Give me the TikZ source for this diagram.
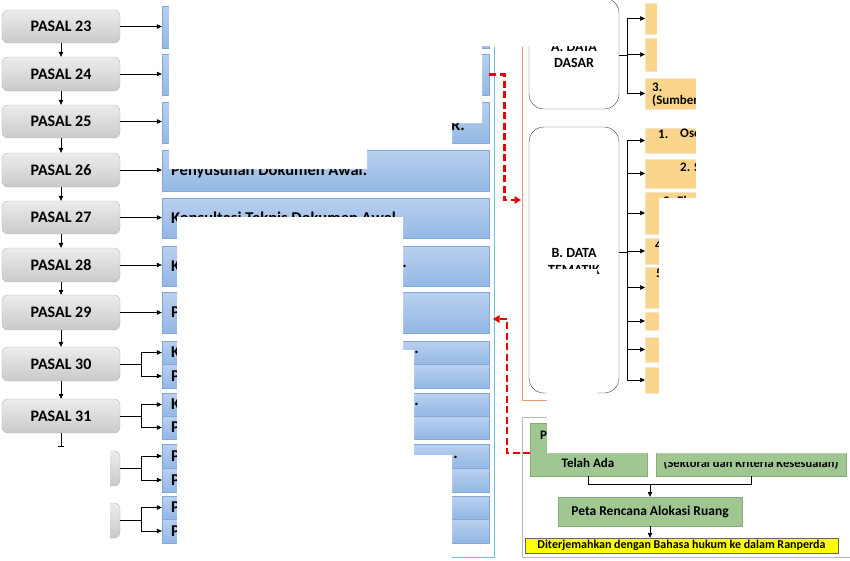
\documentclass[tikz,border=0pt]{standalone}
\usepackage{fontspec}
\setmainfont{Carlito}
\usetikzlibrary{arrows.meta}
\definecolor{bluetop}{RGB}{186,208,239}
\definecolor{bluebot}{RGB}{146,184,228}
\definecolor{blueline}{RGB}{130,168,214}
\definecolor{framebl}{RGB}{110,192,220}
\definecolor{orangef}{RGB}{251,213,140}
\definecolor{orangeline}{RGB}{236,150,120}
\definecolor{greenf}{RGB}{160,198,146}
\definecolor{greenline}{RGB}{135,172,122}
\definecolor{yellowf}{RGB}{255,255,0}
\definecolor{redd}{RGB}{235,0,0}
\begin{document}
\begin{tikzpicture}[x=1pt,y=-1pt,
  pasal/.style={rounded corners=6pt, top color=gray!15, bottom color=gray!42, draw=gray!55,
     minimum width=118pt, inner sep=0pt, font=\fontsize{16}{18}\selectfont\bfseries},
  bluebox/.style={top color=bluetop, bottom color=bluebot, draw=blueline, minimum width=327pt, inner sep=0pt},
  bt/.style={inner sep=0pt, font=\fontsize{16.5}{18}\selectfont\bfseries},
  dbox/.style={draw=black!75, rounded corners=15pt, minimum width=90pt, inner sep=0pt},
  dt/.style={inner sep=0pt, font=\fontsize{14}{16}\selectfont\bfseries},
  obox/.style={fill=orangef, draw=orangef!90!black!40, minimum width=200pt, inner sep=0pt, anchor=west},
  ot/.style={inner sep=0pt, anchor=west, font=\fontsize{13}{15}\selectfont\bfseries},
  gbox/.style={fill=greenf, draw=greenline, inner sep=0pt},
  gt/.style={inner sep=0pt, font=\fontsize{13}{15}\selectfont\bfseries},
  arr/.style={-{Triangle[length=5pt,width=4.5pt]}, line width=0.6pt},
  conn/.style={line width=0.6pt},
  redarr/.style={-{Triangle[length=6.5pt,width=7.5pt]}, draw=redd, line width=2.8pt, dash pattern=on 7pt off 3.5pt}
]
\useasboundingbox (0,0) rectangle (850,560);
\fill[white] (0,0) rectangle (850,560);

% ---- left gray PASAL boxes
\node[pasal, minimum height=33pt] (p23) at (61,26.5) {PASAL 23};
\node[pasal, minimum height=34pt] (p24) at (61,74) {PASAL 24};
\node[pasal, minimum height=33pt] (p25) at (61,121.5) {PASAL 25};
\node[pasal, minimum height=34pt] (p26) at (61,170) {PASAL 26};
\node[pasal, minimum height=33pt] (p27) at (61,217.5) {PASAL 27};
\node[pasal, minimum height=34pt] (p28) at (61,265) {PASAL 28};
\node[pasal, minimum height=35pt] (p29) at (61,312.5) {PASAL 29};
\node[pasal, minimum height=34pt] (p30) at (61,364) {PASAL 30};
\node[pasal, minimum height=34pt] (p31) at (61,416) {PASAL 31};
\node[pasal, minimum height=35pt] (g1) at (61,468.5) {};
\node[pasal, minimum height=35pt] (g2) at (61,520.5) {};

\foreach \a/\b in {p23/p24,p24/p25,p25/p26,p26/p27,p27/p28,p28/p29,p29/p30,p30/p31}
  \draw[arr] (\a.south) -- (\b.north);

% ---- blue boxes
\node[bluebox, minimum height=42pt] (r1) at (325.5,27) {};
\node[bluebox, minimum height=41pt] (r2) at (325.5,74.5) {};
\node[bluebox, minimum height=41pt] (r3) at (325.5,122.5) {};
\node[bluebox, minimum height=41pt] (r4) at (325.5,170.5) {};
\node[bluebox, minimum height=40pt] (r5) at (325.5,218) {};
\node[bluebox, minimum height=40pt] (r6) at (325.5,266) {};
\node[bluebox, minimum height=41pt] (r7) at (325.5,312.5) {};
\node[bluebox, minimum height=23pt] (r8a) at (325.5,352.5) {};
\node[bluebox, minimum height=24pt] (r8b) at (325.5,376) {};
\node[bluebox, minimum height=23pt] (r9a) at (325.5,404.5) {};
\node[bluebox, minimum height=23pt] (r9b) at (325.5,427.5) {};
\node[bluebox, minimum height=24pt] (r10a) at (325.5,456) {};
\node[bluebox, minimum height=24pt] (r10b) at (325.5,480) {};
\node[bluebox, minimum height=23pt] (r11a) at (325.5,507.5) {};
\node[bluebox, minimum height=24pt] (r11b) at (325.5,531) {};

% texts in blue boxes
\node[bt, anchor=east] (t3) at (465,125) {R.};
\node[bt, anchor=west] (t4) at (171,171) {Penyusunan Dokumen Awal.};
\node[bt, anchor=west] (t5) at (171,218) {Konsultasi Teknis Dokumen Awal.};
\node[bt, anchor=west] (t6) at (171,266) {K};
\node[bt, anchor=east] (t6e) at (407,266) {.};
\node[bt, anchor=west] (t7) at (171,312.5) {P};
\node[bt, anchor=west] (t8a) at (171,352.5) {K};
\node[bt, anchor=east] (t8e) at (419,352.5) {.};
\node[bt, anchor=west] (t8b) at (171,376) {P};
\node[bt, anchor=west] (t9a) at (171,404.5) {K};
\node[bt, anchor=east] (t9e) at (419,404.5) {.};
\node[bt, anchor=west] (t9b) at (171,427.5) {P};
\node[bt, anchor=west] (t10a) at (171,456) {P};
\node[bt, anchor=east] (t10e) at (458,457) {.};
\node[bt, anchor=west] (t10b) at (171,480) {P};
\node[bt, anchor=west] (t11a) at (171,507.5) {P};
\node[bt, anchor=west] (t11b) at (171,531) {P};

% horizontal arrows
\foreach \p/\r in {p23/r1,p24/r2,p25/r3,p26/r4,p27/r5,p28/r6,p29/r7}
  \draw[arr] (\p.east) -- (\p.east -| \r.west);
\foreach \p/\ra/\rb in {p30/r8a/r8b,p31/r9a/r9b,g1/r10a/r10b,g2/r11a/r11b}{
  \coordinate (j\p) at ([xshift=21pt]\p.east);
  \draw[conn] (\p.east) -- (j\p);
  \draw[arr] (j\p) |- (\ra.west);
  \draw[arr] (j\p) |- (\rb.west);
}

% ---- data section
\draw[orangeline, line width=0.7pt] (522,47) -- (522,400) -- (851,400);
\node[dbox, minimum height=111pt] (da) at (574,53.5) {};
\node[dt] (dat1) at (574,47.5) {A. DATA};
\node[dt] (dat2) at (574,63) {DASAR};
\node[dbox, minimum height=266pt] (db) at (574,260) {};
\node[dt] (dbt1) at (574,253) {B. DATA};
\node[dt] (dbt2) at (574,270) {TEMATIK};

\node[obox, minimum height=31pt] (a1) at (645,18.5) {};
\node[obox, minimum height=33pt] (a2) at (645,54.5) {};
\node[obox, minimum height=31pt] (a3) at (645,93.5) {};
\node[obox, minimum height=25pt] (b1) at (645,140.5) {};
\node[obox, minimum height=29pt] (b2) at (645,173.5) {};
\node[obox, minimum height=42pt] (b3) at (645,213) {};
\node[obox, minimum height=26pt] (b4) at (645,251) {};
\node[obox, minimum height=41pt] (b5) at (645,287.5) {};
\node[obox, minimum height=18pt] (b6) at (645,321) {};
\node[obox, minimum height=25pt] (b7) at (645,349.5) {};
\node[obox, minimum height=26pt] (b8) at (645,380) {};

\node[ot] (a3t1) at (652,87) {3.};
\node[ot] (a3t2) at (652,101) {(Sumber};
\node[ot] (b1t1) at (658,134) {1.};
\node[ot] (b1t2) at (680,134) {Oseanografi};
\node[ot] (b2t) at (680,167) {2. Sumber};
\node[ot] (b3t) at (663,201) {3. Ekosistem};
\node[ot] (b4t) at (655,245) {4.};
\node[ot] (b5t) at (656,273) {5.};

\coordinate (ja) at (627,55);
\draw[conn] (ja -| da.east) -- (ja);
\draw[conn] (a1.west -| ja) -- (a3.west -| ja);
\foreach \o in {a1,a2,a3} \draw[arr] (\o.west -| ja) -- (\o.west);
\coordinate (jb) at (627,252);
\draw[conn] (jb -| db.east) -- (jb);
\draw[conn] (b1.west -| jb) -- (b8.west -| jb);
\foreach \o in {b1,b2,b3,b4,b5,b6,b7,b8} \draw[arr] (\o.west -| jb) -- (\o.west);

% ---- green section
\draw[gray!55, line width=0.7pt] (851,417) -- (522,417) -- (522,557) -- (851,557);
\node[gbox, minimum width=117pt, minimum height=53pt] (gl) at (588.5,449.5) {};
\node[gbox, minimum width=190pt, minimum height=53pt] (gr) at (751,449.5) {};
\node[gt, anchor=west] (glt1) at (540,435) {P};
\node[gt] (glt2) at (588,463) {Telah Ada};
\begin{scope}
  \clip (656,462.5) rectangle (846,476);
  \node[gt, font=\fontsize{12.5}{14}\selectfont\bfseries] (grt) at (751,464) {(Sektoral dan Kriteria Kesesuaian)};
\end{scope}
\node[gbox, minimum width=184pt, minimum height=29pt, font=\fontsize{13.5}{15}\selectfont\bfseries] (peta) at (650,511.5) {Peta Rencana Alokasi Ruang};
\node[fill=yellowf, draw=black!60, minimum width=313pt, minimum height=15pt, inner sep=0pt,
      font=\fontsize{12}{14}\selectfont\bfseries] (yel) at (681.5,545.5) {Diterjemahkan dengan Bahasa hukum ke dalam Ranperda};
\coordinate (jg) at (650,484);
\draw[conn] (gl.south) |- (jg) -| (gr.south);
\draw[arr] (jg) -- (peta.north);
\draw[arr] (peta.south) -- (peta.south |- yel.north);

% ---- white masks
\fill[white] (169,-1) -- (598,-1) -- (598,46) -- (482,46) -- (482,123) -- (452,123) -- (452,146)
   -- (367,146) -- (367,169) -- (169,169) -- cycle;
\fill[white] (177,217) -- (403,217) -- (403,350) -- (414,350) -- (414,455) -- (452,455) -- (452,561) -- (177,561) -- cycle;
\fill[white] (-1,445) rectangle (110,561);
\fill[white] (547,269) -- (597,269) -- (597,395) -- (851,395) -- (851,453) -- (547,453) -- cycle;
\fill[white] (657,-1) -- (851,-1) -- (851,453) -- (659,453) -- (659,198) -- (696,198) -- (696,76) -- (657,76) -- cycle;

% ---- items drawn over the masks
\draw[framebl, line width=0.8pt] (494,47) -- (494,557) -- (452,557);
\draw[conn] (p31.south) -- ++(0,13) coordinate (stub);
\draw[conn] ([xshift=-3pt]stub) -- ([xshift=3pt]stub);

% red dashed arrows
\coordinate (of) at (521,200);
\draw[redarr] (r2.east) -- ++(15,0) |- (of);
\coordinate (rs) at (530,453);
\coordinate (rt) at (493,319);
\draw[redarr] (rs) -- ++(-23,0) |- (rt);
\end{tikzpicture}
\end{document}
